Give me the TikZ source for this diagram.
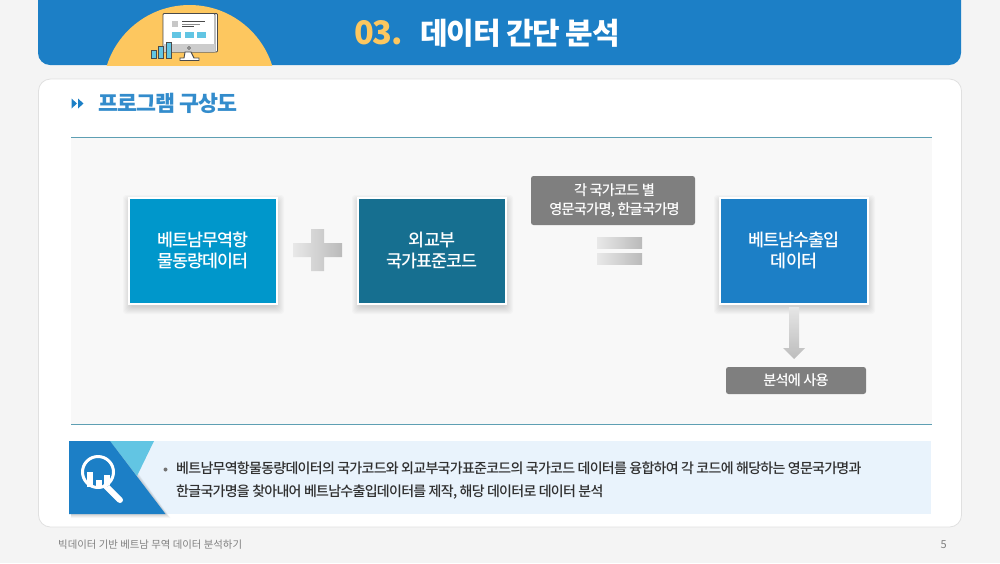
\documentclass[tikz,border=0pt]{standalone}
\usepackage{fontspec}
\usetikzlibrary{shadings}
\newfontfamily\kr[LetterSpace=-4]{Noto Sans CJK KR}
\newfontfamily\krm[LetterSpace=-5.5]{Noto Sans CJK KR Medium}
\newfontfamily\krn[LetterSpace=-5.2]{Noto Sans CJK KR Medium}
\newfontfamily\krf{Noto Sans CJK KR}
\definecolor{pagebg}{HTML}{F4F4F4}
\definecolor{hblue}{HTML}{1C7FC6}
\definecolor{sun}{HTML}{FDC75F}
\definecolor{rule}{HTML}{5E9FB3}
\definecolor{panel}{HTML}{F8F8F8}
\definecolor{tealA}{HTML}{0097CB}
\definecolor{tealB}{HTML}{166F90}
\definecolor{tagg}{HTML}{7F7F7F}
\definecolor{notebg}{HTML}{E9F3FC}
\definecolor{skyb}{HTML}{62C5E3}
\definecolor{ink}{HTML}{303030}
\definecolor{outl}{HTML}{4A4A4A}
\tikzset{
  bigbox/.style={draw=white,line width=2pt,minimum width=148pt,minimum height=106pt,inner sep=0pt,align=center,text=white,font=\krm\fontsize{17.4}{20.5}\selectfont},
  tag/.style={fill=tagg,rounded corners=2.5pt,inner sep=0pt,align=center,text=white,font=\krm\fontsize{14.2}{18.5}\selectfont},
  metal/.style={left color=black!9,right color=black!27},
  softshadow/.style={fill=black,fill opacity=0.02,draw=none},
}
\newcommand{\softrect}[4]{%
  \foreach \e in {1,2,...,8}{\fill[softshadow,rounded corners=3pt] (#1-\e+1,#2+5-\e) rectangle (#3+\e-1,#4+3+\e);}}
\begin{document}
\begin{tikzpicture}[x=1pt,y=-1pt]
\useasboundingbox (0,0) rectangle (1000,563);
\fill[pagebg] (0,0) rectangle (1000,563);
% header
\begin{scope}
\clip (0,0) rectangle (1000,65);
\fill[hblue,rounded corners=12pt] (38,-20) rectangle (961,65);
\fill[sun] (189.5,91.7) circle[radius=86.7pt];
\end{scope}
% monitor
\begin{scope}[line width=0.9pt]
\fill[white,draw=outl,rounded corners=1pt] (165,13.5) rectangle (217.5,52);
\fill[white,draw=outl,rounded corners=1pt] (163,13.5) rectangle (215,52);
\fill[black!20] (163.5,44) rectangle (214.5,51.5);
\fill[white,draw=outl] (185,52) -- (191,52) -- (194,58) -- (199,58) -- (199,60.5) -- (180,60.5) -- (180,58) -- (184,58) -- cycle;
\draw[outl,line width=0.6pt] (189,48) circle[radius=1.5pt];
\fill[black!22] (172,21) rectangle (178,27);
\fill[outl] (182,21) rectangle (205,22.3);
\fill[black!45] (182,24) rectangle (200,25);
\fill[outl] (182,26.3) rectangle (194,27.3);
\fill[skyb] (172,32) rectangle (181,38);
\fill[skyb] (184.5,32) rectangle (193.5,38);
\fill[skyb] (197,32) rectangle (206,38);
\filldraw[fill=skyb,draw=outl] (151,50.5) rectangle (156,58.5);
\filldraw[fill=skyb,draw=outl] (158.5,46) rectangle (163.5,58.5);
\filldraw[fill=skyb,draw=outl] (166,42.5) rectangle (171.5,58.5);
\end{scope}
\node[anchor=base west,inner sep=0pt,text=sun,font=\kr\bfseries\fontsize{32.5}{32}\selectfont] (num) at (354,44) {03.};
\node[anchor=base west,inner sep=0pt,text=white,font=\kr\bfseries\fontsize{30}{30}\selectfont] (title) at (420,44) {데이터 간단 분석};
% card
\filldraw[fill=white,draw=black!12,line width=0.8pt,rounded corners=12pt] (38.5,79) rectangle (961.5,527);
\fill[hblue] (71.5,98.5) -- (77,103.5) -- (71.5,108.5) -- cycle;
\fill[hblue] (78,98.5) -- (83.5,103.5) -- (78,108.5) -- cycle;
\node[anchor=base west,inner sep=0pt,text=hblue!90!white,font=\kr\bfseries\fontsize{21.7}{24}\selectfont] (sub) at (98,111) {프로그램 구상도};
% panel
\fill[panel] (71,137) rectangle (932,424);
\draw[rule,line width=0.9pt] (71,137) -- (932,137);
\draw[rule,line width=0.9pt] (71,424.5) -- (932,424.5);
% boxes
\softrect{130}{198}{277}{303}
\softrect{359}{198}{506}{303}
\softrect{721}{198}{868}{303}
\node[bigbox,fill=tealA] (a) at (203,250.5) {베트남무역항\\물동량데이터};
\node[bigbox,fill=tealB] (b) at (432,250.5) {외교부\\국가표준코드};
\node[bigbox,fill=hblue] (c) at (794,250.5) {베트남수출입\\데이터};
\node[tag,minimum width=164pt,minimum height=49pt] (t1) at (613,200.5) {\hspace*{3pt}각 국가코드 별\\\hspace*{3pt}영문국가명, 한글국가명};
\node[tag,minimum width=140pt,minimum height=27pt] (t2) at (796,380.5) {분석에 사용};
% plus
\shade[metal] (293,243) -- (311,243) -- (311,229) -- (324,229) -- (324,243) -- (342,243) -- (342,257) -- (324,257) -- (324,271) -- (311,271) -- (311,257) -- (293,257) -- cycle;
% equals
\shade[metal] (597,237) rectangle (642,248);
\shade[metal] (597,253) rectangle (642,264);
% arrow
\shade[top color=black!10,bottom color=black!26] (789,307) -- (799,307) -- (799,348) -- (805,348) -- (794,359) -- (783,348) -- (789,348) -- cycle;
% note
\fill[notebg] (69,441) rectangle (931,514);
\foreach \e in {1,...,5}{\fill[black,opacity=0.035] (71,441+\e) -- (110+\e,441) -- (165.5+\e,514+\e*0.8) -- (71,514+\e*0.8) -- cycle;}
\fill[skyb] (110,441) -- (154,441) -- (137,476) -- cycle;
\fill[hblue] (69,441) -- (110,441) -- (165.5,514) -- (69,514) -- cycle;
% magnifier
\draw[white,line width=6pt,line cap=round] (106,486) -- (120,500);
\draw[hblue,line width=1pt] (110.5,482.5) -- (107,486);
\draw[white,line width=3pt] (98,472) circle[radius=15.5pt];
\fill[white] (87,472) rectangle (93,487);
\fill[white] (96,480) rectangle (102,487);
\fill[white] (104,475) rectangle (110,485);
% note text
\fill[black!55] (165.5,469.5) circle[radius=2pt];
\node[anchor=base west,inner sep=0pt,text=ink,font=\krn\fontsize{14}{20}\selectfont] (n1) at (176,473) {베트남무역항물동량데이터의 국가코드와 외교부국가표준코드의 국가코드 데이터를 융합하여 각 코드에 해당하는 영문국가명과};
\node[anchor=base west,inner sep=0pt,text=ink,font=\krn\fontsize{14}{20}\selectfont] (n2) at (176,496) {한글국가명을 찾아내어 베트남수출입데이터를 제작, 해당 데이터로 데이터 분석};
% footer
\node[anchor=base west,inner sep=0pt,text=black!50,font=\krf\fontsize{10.4}{12}\selectfont] (foot) at (58,548) {빅데이터 기반 베트남 무역 데이터 분석하기};
\node[anchor=base east,inner sep=0pt,text=black!50,font=\krf\fontsize{11}{12}\selectfont] (pg) at (947,548.5) {5};
\end{tikzpicture}
\end{document}
